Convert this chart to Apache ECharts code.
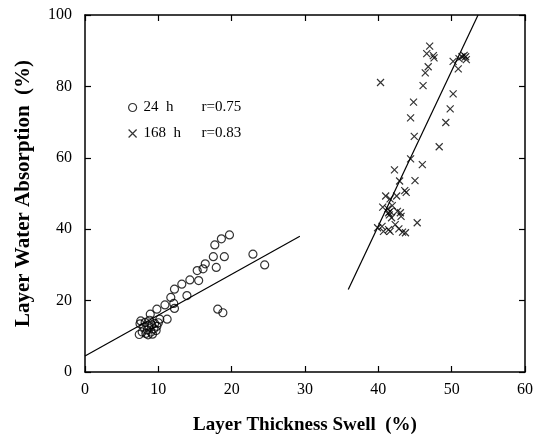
<!DOCTYPE html>
<html>
<head>
<meta charset="utf-8">
<script src="https://cdn.jsdelivr.net/npm/echarts@6/dist/echarts.min.js"></script>
<style>html,body{margin:0;padding:0;background:#fff;}#c{width:536px;height:441px;}</style>
</head>
<body>
<div id="c"></div>
<script>
// ---- data ----
const seriesNames = ['24  h', '168  h'];
const rValues = ['r=0.75', 'r=0.83'];

const swell24 = [7.4,7.5,7.6,7.8,8.0,8.2,8.3,8.5,8.6,8.7,8.8,9.0,9.1,9.2,9.4,9.5,9.7,9.8,10.0,
  8.9,9.8,10.9,10.2,11.2,11.7,12.2,12.1,12.2,13.2,13.9,14.3,15.3,15.5,16.1,16.4,17.5,17.7,17.9,18.6,19.0,18.1,18.8,19.7,22.9,24.5];
const absorb24 = [10.5,13.5,14.3,11.2,12.6,13.9,10.8,11.8,10.4,12.9,14.5,11.2,13.2,10.6,12.1,13.6,11.6,12.8,13.8,
  16.2,17.6,18.8,14.8,14.8,20.9,23.2,19.2,17.8,24.6,21.4,25.8,28.4,25.6,28.9,30.3,32.3,35.6,29.3,37.3,32.3,17.6,16.6,38.4,33.0,30.0];

const swell168 = [40.3,47.0,46.6,47.5,47.6,46.8,46.4,46.1,44.8,44.4,44.9,44.4,46.0,45.0,45.3,48.3,49.2,49.8,50.2,50.2,50.9,51.0,51.4,51.7,51.9,52.0,
  42.2,42.9,43.8,43.6,42.5,41.0,41.6,40.6,41.3,41.4,41.6,41.9,42.6,43.0,43.1,42.3,39.9,40.5,40.7,41.4,41.6,42.8,43.3,43.7,41.5,41.8];
const absorb168 = [81.1,91.3,89.2,88.6,88.0,85.5,83.8,80.2,75.6,71.2,66.0,59.7,58.1,53.6,41.8,63.1,69.9,73.7,77.9,87.0,84.9,87.8,88.3,88.7,88.3,87.5,
  56.6,53.5,50.3,50.8,49.3,49.3,48.5,46.2,45.7,44.6,45.0,46.6,45.0,44.6,43.6,41.3,40.4,40.8,39.4,39.9,39.4,40.1,39.2,39.0,44.0,43.2];

const fit24X = [0, 29.3];
const fit24Y = [4.5, 38.0];
const fit168X = [35.9, 53.6];
const fit168Y = [23.1, 100];

const xTicks = {min: 0, max: 60, interval: 10};
const yTicks = {min: 0, max: 100, interval: 20};

// ---- build ----
const zip = (a, b) => a.map((v, i) => [v, b[i]]);
const FONT = '"Liberation Serif", "Times New Roman", serif';

const chart = echarts.init(document.getElementById('c'), null, {renderer: 'canvas'});
const axisCommon = {
  axisLine: {show: true, onZero: false, lineStyle: {color: '#000', width: 1.5}},
  axisTick: {show: true, inside: true, length: 6, lineStyle: {color: '#000', width: 1.2}},
  splitLine: {show: false}
};
const open = 'transparent';
chart.setOption({
  animation: false,
  backgroundColor: '#fff',
  grid: {left: 85, top: 15, width: 441, height: 357, containLabel: false},
  xAxis: [
    Object.assign({type: 'value', position: 'bottom', min: xTicks.min, max: xTicks.max, interval: xTicks.interval,
      name: 'Layer Thickness Swell  (%)', nameLocation: 'middle', nameGap: 44,
      nameTextStyle: {fontFamily: FONT, fontWeight: 'bold', fontSize: 19, color: '#000'},
      axisLabel: {margin: 10, fontFamily: FONT, fontSize: 16, color: '#000'}}, axisCommon),
    Object.assign({type: 'value', position: 'top', min: xTicks.min, max: xTicks.max, interval: xTicks.interval,
      axisLabel: {show: false}}, axisCommon)
  ],
  yAxis: [
    Object.assign({type: 'value', position: 'left', min: yTicks.min, max: yTicks.max, interval: yTicks.interval,
      name: 'Layer Water Absorption  (%)', nameLocation: 'middle', nameGap: 51,
      nameTextStyle: {fontFamily: FONT, fontWeight: 'bold', fontSize: 21, color: '#000'},
      axisLabel: {margin: 13, fontFamily: FONT, fontSize: 16, color: '#000'}}, axisCommon),
    Object.assign({type: 'value', position: 'right', min: yTicks.min, max: yTicks.max, interval: yTicks.interval,
      axisLabel: {show: false}}, axisCommon)
  ],
  legend: {
    data: seriesNames,
    orient: 'vertical',
    left: 123, top: 95,
    itemWidth: 8, itemHeight: 8, itemGap: 11,
    itemStyle: {color: open, borderColor: '#000', borderWidth: 1.2},
    formatter: function (name) {
      const i = seriesNames.indexOf(name);
      return '{a|' + name + '}{b|' + rValues[i] + '}';
    },
    textStyle: {
      fontFamily: FONT, fontSize: 15, color: '#000',
      rich: {
        a: {fontFamily: FONT, fontSize: 15, color: '#000', width: 58, padding: [0, 0, 0, 2], lineHeight: 16},
        b: {fontFamily: FONT, fontSize: 15, color: '#000', lineHeight: 16}
      }
    }
  },
  series: [
    {name: seriesNames[0], type: 'scatter', data: zip(swell24, absorb24), symbol: 'circle', symbolSize: 8,
      itemStyle: {color: open, borderColor: '#000', borderWidth: 1.2}, z: 3},
    {name: seriesNames[1], type: 'scatter', data: zip(swell168, absorb168), symbol: 'path://M0,0L10,10M10,0L0,10', symbolSize: 7,
      itemStyle: {color: open, borderColor: '#000', borderWidth: 1.2}, z: 3},
    {name: 'fit24', type: 'line', data: zip(fit24X, fit24Y), symbol: 'none', lineStyle: {color: '#000', width: 1.2}, z: 2},
    {name: 'fit168', type: 'line', data: zip(fit168X, fit168Y), symbol: 'none', lineStyle: {color: '#000', width: 1.2}, z: 2}
  ]
});
</script>
</body>
</html>
